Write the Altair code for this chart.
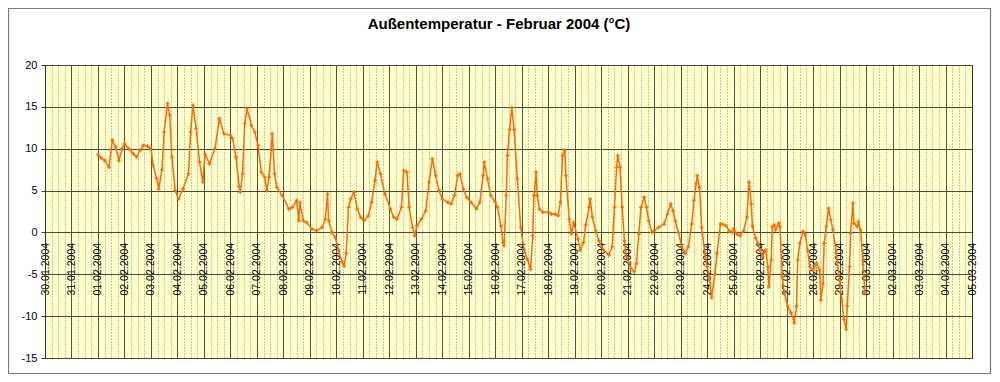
import altair as alt
import pandas as pd

# Measured outdoor temperatures, February 2004 (day of month, hour, °C)
day = [1,1,1,1,1,1,1,1,
       2,2,2,2,2,2,2,
       3,3,3,3,3,3,3,3,3,3,
       4,4,4,4,4,4,4,4,
       5,5,5,5,5,
       6,6,6,6,6,6,6,6,6,6,
       7,7,7,7,7,7,7,7,7,
       8,8,8,8,8,8,8,
       9,9,9,9,9,9,9,9,
       10,10,10,10,10,10,10,10,10,
       11,11,11,11,11,11,11,
       12,12,12,12,12,12,12,12,12,
       13,13,13,13,13,13,13,
       14,14,14,14,14,14,14,14,
       15,15,15,15,15,15,15,
       16,16,16,16,16,16,16,16,16,16,16,16,
       17,17,17,17,17,17,17,17,17,
       18,18,18,18,18,18,18,18,18,18,18,
       19,19,19,19,19,19,19,19,19,
       20,20,20,20,20,20,20,20,20,20,
       21,21,21,21,21,21,21,21,21,
       22,22,22,22,22,22,22,22,
       23,23,23,23,23,23,23,23,23,23,
       24,24,24,24,24,24,24,24,24,24,
       25,25,25,25,25,25,25,25,25,25,
       26,26,26,26,26,26,26,26,26,26,26,26,26,
       27,27,27,27,27,27,27,27,27,27,
       28,28,28,28,28,28,28,28,28,28,28,
       29,29,29,29,29,29,29,29,29,29,29,29,29,29]
hour = [0,3,6,10,13,16,19,22,
        0,4,8,11,14,17,21,
        0,2,5,7,10,12,15,17,19,22,
        1,5,10,12,14,17,20,23,
        1,5,10,14,18,
        0,2,5,8,9,11,13,15,19,22,
        1,4,7,9,11,14,16,18,23,
        5,8,12,14,15,18,21,
        2,6,11,14,16,17,20,23,
        2,5,7,9,11,13,16,19,22,
        1,5,8,11,13,16,20,
        1,4,7,11,13,16,18,21,23,
        1,5,9,12,15,18,21,
        0,5,8,11,14,16,19,22,
        2,7,10,13,14,17,20,
        0,2,5,7,8,10,11,13,15,17,20,23,
        2,5,8,10,11,13,14,16,19,
        0,3,6,9,11,13,15,16,19,21,23,
        3,5,8,10,13,14,16,19,22,
        2,7,10,12,14,15,17,19,21,23,
        3,6,8,10,12,15,17,19,22,
        0,4,9,12,15,17,19,22,
        1,4,7,10,12,14,15,17,19,22,
        0,2,4,7,9,12,14,17,20,23,
        0,3,6,9,12,14,16,17,20,22,
        0,2,5,7,8,10,11,13,14,17,18,20,22,
        1,4,7,9,10,12,15,17,19,21,
        0,3,6,7,9,10,12,14,16,18,21,
        0,2,4,6,7,9,10,12,13,16,17,19,21,23]
temp = [9.3,8.9,8.6,7.8,11.0,10.2,8.6,10.0,
        10.6,10.0,9.4,9.0,9.8,10.4,10.3,
        10.0,8.0,6.5,5.2,7.5,12.0,15.4,14.0,9.0,5.0,
        4.0,5.2,7.0,12.0,15.2,12.4,8.4,6.0,
        9.4,8.2,10.0,13.6,11.8,
        11.6,11.2,9.0,5.5,4.8,7.0,13.0,14.8,12.8,12.0,
        10.4,7.2,6.6,5.0,6.6,11.8,7.0,5.4,4.4,
        2.8,3.0,3.8,1.4,3.6,1.4,1.2,
        0.4,0.2,0.6,1.6,4.6,1.4,0.0,-0.6,
        -2.1,-3.5,-4.0,-2.5,3.0,4.0,4.8,2.8,1.8,
        1.4,2.0,3.6,6.2,8.4,7.0,4.6,
        2.8,1.8,1.6,3.0,7.4,7.2,3.0,0.6,-0.4,
        0.8,1.6,2.6,6.0,8.8,6.8,5.0,
        4.0,3.6,3.4,4.4,6.8,7.0,5.2,4.2,
        3.6,2.8,3.6,6.8,8.4,6.4,4.4,
        3.6,3.0,0.8,-1.2,-1.6,4.4,9.2,12.3,14.9,12.3,6.4,0.6,
        -2.0,-3.2,-4.4,-0.4,4.4,7.2,4.4,2.8,2.4,
        2.4,2.2,2.2,2.0,3.6,9.2,9.8,6.8,1.6,-0.2,1.2,
        -0.8,-2.1,-1.2,0.9,3.0,4.0,1.8,0.2,-1.0,
        -2.1,-2.7,-1.7,3.0,7.8,9.2,7.8,3.0,-1.0,-2.9,
        -4.3,-4.7,-3.7,-0.2,3.0,4.2,3.0,1.4,0.0,
        0.2,0.6,1.0,2.2,3.4,2.6,1.4,0.0,
        -1.7,-2.5,-1.7,1.0,3.8,5.8,6.8,5.4,0.6,-2.5,
        -4.1,-5.3,-7.8,-5.0,-2.5,1.0,1.0,0.8,0.2,0.0,
        0.4,-0.2,-0.4,0.2,1.8,6.0,3.4,0.7,-0.7,-1.3,
        -2.1,-2.9,-2.1,-4.1,-6.5,-3.3,0.7,0.9,0.3,1.1,0.7,-5.3,-7.3,
        -8.8,-9.6,-10.8,-8.8,-3.3,-1.3,0.1,-0.3,-2.1,-4.1,
        -4.5,-3.7,-4.5,-8.1,-6.1,-1.3,0.7,2.9,1.5,0.3,-2.5,
        -5.7,-8.1,-10.4,-11.6,-8.8,-4.1,-0.1,3.5,1.1,0.7,1.3,0.3,-3.3,-7.3]

y_ticks = [-15, -10, -5, 0, 5, 10, 15, 20]
title_text = "Außentemperatur - Februar 2004 (°C)"

zeit = [f"2004/02/{d:02d} {h:02d}:00" for d, h in zip(day, hour)]
df = pd.DataFrame({"zeit": zeit, "temp": temp})

# axis tick positions: every 6 hours from 30.01.2004 to 05.03.2004
tick_dates = pd.date_range("2004-01-30", "2004-03-05", freq="6h")
x_tick_values = [
    alt.DateTime(year=int(t.year), month=int(t.month), date=int(t.day), hours=int(t.hour))
    for t in tick_dates
]

W, H = 927, 293
ORANGE = "#FF6A00"

x_scale = alt.Scale(
    domain=[alt.DateTime(year=2004, month=1, date=30, hours=0),
            alt.DateTime(year=2004, month=3, date=5, hours=0)],
    nice=False,
)
y_scale = alt.Scale(domain=[-15, 20], nice=False, zero=False)

is_midnight = "hours(datum.value) == 0"

x_axis = alt.Axis(
    title=None,
    values=x_tick_values,
    labelExpr="hours(datum.value) == 0 ? timeFormat(datum.value, '%d.%m.%Y') : ''",
    labelAngle=270,
    labelAlign="right",
    labelBaseline="middle",
    labelFont="Liberation Sans",
    labelFontSize=10.5,
    labelColor="#000000",
    labelOverlap=False,
    labelFlush=False,
    labelPadding=10,
    ticks=False,
    domain=False,
    grid=True,
    gridColor=alt.condition(is_midnight, alt.value("#1a1a1a"), alt.value("#8c8c8c")),
    gridDash=alt.condition(is_midnight, alt.value([1, 0]), alt.value([1, 2])),
    gridWidth=1,
    offset=-(H * 15 / 35),
)

y_axis = alt.Axis(
    title=None,
    values=y_ticks,
    labelExpr="'' + datum.value",
    labelFont="Liberation Sans",
    labelFontSize=11,
    labelColor="#000000",
    labelPadding=4,
    tickSize=4,
    tickColor="#333333",
    domainColor="#333333",
    grid=True,
    gridColor="#4a4a3a",
    gridWidth=1,
)

base = alt.Chart(df).encode(
    x=alt.X("zeit:T", scale=x_scale, axis=x_axis),
    y=alt.Y("temp:Q", scale=y_scale, axis=y_axis),
)

line = base.mark_line(color=ORANGE, strokeWidth=1.5)
pts = base.mark_point(shape="cross", size=14, filled=True, color=ORANGE, opacity=0.9)

frame = alt.Chart(alt.Data(values=[{"f": 1}])).mark_rect(
    fillOpacity=0, stroke="#7a7a7a", strokeWidth=1.2
).encode(
    x=alt.value(-36.5), x2=alt.value(945.5), y=alt.value(-56.5), y2=alt.value(308.5)
)

title = alt.Chart(alt.Data(values=[{"t": title_text}])).mark_text(
    font="Liberation Sans", fontSize=15, fontWeight="bold", color="#000000",
    align="center", baseline="alphabetic",
).encode(
    text="t:N", x=alt.value(454), y=alt.value(-36)
)

chart = alt.layer(line, pts, frame, title).properties(
    width=W,
    height=H,
    autosize=alt.AutoSizeParams(type="none"),
    padding={"left": 37, "top": 57, "right": 20, "bottom": 16},
).configure(
    background="#FFFFFF",
    view=alt.ViewConfig(fill="#FFFFCC", stroke="#808080", strokeWidth=1),
)

chart.save("out.html", embed_options={"renderer": "svg", "actions": False})
